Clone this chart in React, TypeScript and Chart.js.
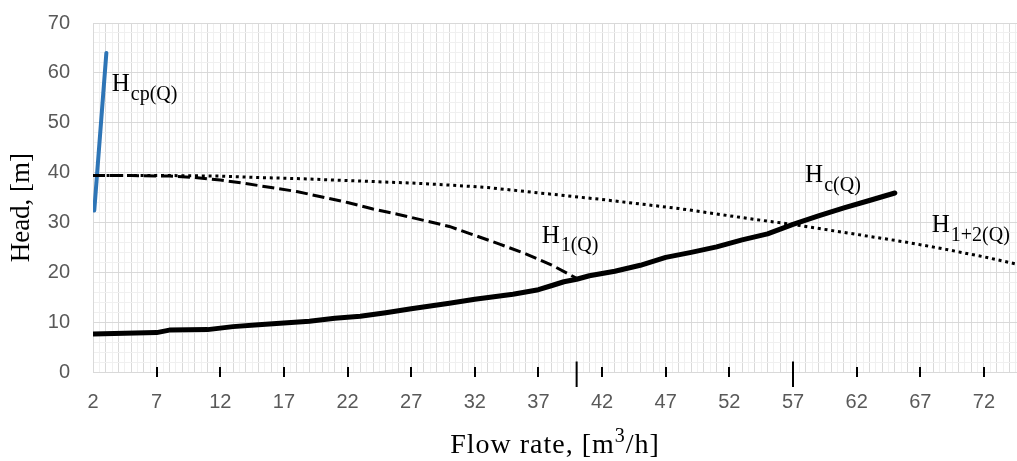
import React, { useEffect, useRef } from 'react';
import { Chart, registerables } from 'chart.js';

Chart.register(...registerables);

// Tick labels
const flowTicks = [2, 7, 12, 17, 22, 27, 32, 37, 42, 47, 52, 57, 62, 67, 72];
const headTicks = [0, 10, 20, 30, 40, 50, 60, 70];
const xMin = 2;
const xMax = 74.6;

// Axis titles
const xTitleMain = 'Flow rate, [m';
const xTitleSup = '3';
const xTitleEnd = '/h]';
const yTitle = 'Head, [m]';

// Series: Hc(Q) – network characteristic (solid)
const hcQ = [2, 7, 8, 11, 13, 15, 19, 21, 23, 25, 27, 30, 32, 35, 37, 38, 39, 40, 41, 43, 45, 47, 49, 51, 53, 55, 57, 59, 61, 63, 65];
const hcH = [7.6, 7.9, 8.4, 8.5, 9.1, 9.5, 10.2, 10.8, 11.2, 11.9, 12.7, 13.8, 14.6, 15.6, 16.5, 17.3, 18.1, 18.6, 19.3, 20.2, 21.4, 23.0, 24.0, 25.1, 26.5, 27.7, 29.6, 31.3, 32.9, 34.4, 35.9];

// H1(Q) – single pump (dashed)
const h1Q = [2, 5, 8, 10, 12, 14, 16, 18, 20, 22, 24, 26, 28, 30, 32, 34, 36, 38, 40];
const h1H = [39.4, 39.4, 39.3, 39.0, 38.5, 37.8, 37.0, 36.2, 35.1, 34.0, 32.7, 31.6, 30.4, 29.2, 27.4, 25.6, 23.7, 21.5, 18.8];

// H1+2(Q) – two pumps (dotted)
const h12Q = [2, 5, 8, 12, 15, 18, 21, 24, 27, 30, 33, 36, 39, 42, 45, 48, 51, 54, 57, 60, 63, 66, 69, 72, 75];
const h12H = [39.4, 39.4, 39.4, 39.3, 39.0, 38.8, 38.5, 38.2, 37.9, 37.5, 37.0, 36.2, 35.4, 34.6, 33.7, 32.8, 31.7, 30.6, 29.6, 28.4, 27.2, 26.0, 24.6, 23.1, 21.4];

// Hcp(Q) – blue line
const hcpQ = [2.1, 3.05];
const hcpH = [32.4, 64];

// Operating-point marks on the flow axis
const markQ = [40, 57];
const markTop = 2.1;
const markBottom = -3;

// Curve labels (H + subscript), anchored in data coordinates
const labelSubs = ['cp(Q)', 'c(Q)', '1(Q)', '1+2(Q)'];
const labelQ = [3.47, 57.95, 37.25, 67.9];
const labelH = [56.3, 38.1, 25.9, 28.0];

const pts = (xs: number[], ys: number[]) => xs.map((x, i) => ({ x, y: ys[i] }));

const gridX: number[] = [];
for (let v = 2; v <= 74.5; v += 0.5) gridX.push(v);
const gridY: number[] = [];
for (let v = 0; v <= 70; v += 2) gridY.push(v);

const crossTicksPlugin = {
  id: 'crossTicks',
  afterDatasetsDraw(chart: any) {
    const x = chart.scales.x;
    const y0 = chart.chartArea.bottom;
    const ctx = chart.ctx;
    ctx.save();
    ctx.strokeStyle = '#000';
    ctx.lineWidth = 2;
    flowTicks.forEach((v) => {
      if (v === xMin) return;
      const px = Math.round(x.getPixelForValue(v));
      ctx.beginPath();
      ctx.moveTo(px, y0 - 5);
      ctx.lineTo(px, y0 + 5);
      ctx.stroke();
    });
    ctx.restore();
  },
};

const textPlugin = {
  id: 'texts',
  afterDatasetsDraw(chart: any) {
    const { x, y } = chart.scales;
    const ctx = chart.ctx;
    ctx.save();
    ctx.fillStyle = '#000';
    ctx.textBaseline = 'alphabetic';
    ctx.textAlign = 'left';
    labelSubs.forEach((sub, i) => {
      const px = x.getPixelForValue(labelQ[i]);
      const py = y.getPixelForValue(labelH[i]);
      ctx.font = '25px "Liberation Serif"';
      ctx.fillText('H', px, py);
      const w = ctx.measureText('H').width;
      ctx.font = '20px "Liberation Serif"';
      ctx.fillText(sub, px + w + 1, py + 8.5);
    });
    // x-axis title with superscript
    const mainFont = '28px "Liberation Serif"';
    const supFont = '20px "Liberation Serif"';
    (ctx as any).letterSpacing = '1px';
    ctx.font = mainFont;
    const w1 = ctx.measureText(xTitleMain).width;
    const w3 = ctx.measureText(xTitleEnd).width;
    ctx.font = supFont;
    const w2 = ctx.measureText(xTitleSup).width;
    const total = w1 + w2 + w3;
    const cx = (chart.chartArea.left + chart.chartArea.right) / 2;
    const base = chart.height - 8;
    let sx = cx - total / 2;
    ctx.font = mainFont;
    ctx.fillText(xTitleMain, sx, base);
    sx += w1;
    ctx.font = supFont;
    ctx.fillText(xTitleSup, sx, base - 11);
    sx += w2;
    ctx.font = mainFont;
    ctx.fillText(xTitleEnd, sx, base);
    ctx.restore();
  },
};

export default function App() {
  const ref = useRef<HTMLCanvasElement | null>(null);

  useEffect(() => {
    if (!ref.current) return;
    const chart = new Chart(ref.current, {
      type: 'line',
      data: {
        datasets: [
          {
            data: pts(hcQ, hcH),
            borderColor: '#000',
            borderWidth: 5,
            pointRadius: 0,
            tension: 0,
            borderJoinStyle: 'round',
            borderCapStyle: 'round',
          },
          {
            data: pts(h1Q, h1H),
            borderColor: '#000',
            borderWidth: 3,
            borderDash: [12, 5],
            pointRadius: 0,
            tension: 0,
          },
          {
            data: pts(h12Q, h12H),
            borderColor: '#000',
            borderWidth: 3,
            borderDash: [3, 3.8],
            pointRadius: 0,
            tension: 0,
          },
          {
            data: pts(hcpQ, hcpH),
            borderColor: '#2e75b6',
            borderWidth: 4,
            borderCapStyle: 'round',
            pointRadius: 0,
            tension: 0,
          },
          ...markQ.map((q) => ({
            data: [
              { x: q, y: markTop },
              { x: q, y: markBottom },
            ],
            borderColor: '#000',
            borderWidth: 2,
            pointRadius: 0,
            clip: false as any,
          })),
        ] as any,
      },
      options: {
        animation: false,
        responsive: false,
        maintainAspectRatio: false,
        layout: { autoPadding: false, padding: { top: 23, right: 0, bottom: 0, left: 0 } },
        plugins: { legend: { display: false }, tooltip: { enabled: false } },
        scales: {
          x: {
            type: 'linear',
            min: xMin,
            max: xMax,
            afterBuildTicks: (s: any) => {
              s.ticks = gridX.map((v) => ({ value: v }));
            },
            afterFit: (s: any) => {
              s.height = 89;
              s.paddingLeft = 0;
              s.paddingRight = 0;
              s.paddingTop = 0;
              s.paddingBottom = 0;
            },
            ticks: {
              autoSkip: false,
              maxRotation: 0,
              minRotation: 0,
              padding: 18,
              color: '#595959',
              font: { family: 'Liberation Sans', size: 20 },
              callback: (v: any) => (flowTicks.includes(Number(v)) ? String(v) : ''),
            },
            grid: {
              drawTicks: false,
              color: (c: any) => (c.tick && Number.isInteger(c.tick.value) ? '#d9d9d9' : '#f0f0f0'),
            },
            border: { color: '#d9d9d9' },
          },
          y: {
            type: 'linear',
            min: 0,
            max: 70,
            afterBuildTicks: (s: any) => {
              s.ticks = gridY.map((v) => ({ value: v }));
            },
            afterFit: (s: any) => {
              s.width = 93;
              s.paddingLeft = 0;
              s.paddingRight = 0;
              s.paddingTop = 0;
              s.paddingBottom = 0;
            },
            ticks: {
              autoSkip: false,
              padding: 23,
              color: '#595959',
              font: { family: 'Liberation Sans', size: 20 },
              callback: (v: any) => (headTicks.includes(Number(v)) ? String(v) : ''),
            },
            grid: {
              drawTicks: false,
              color: (c: any) => (c.tick && c.tick.value % 10 === 0 ? '#d9d9d9' : '#f0f0f0'),
            },
            border: { color: '#d9d9d9' },
            title: {
              display: true,
              text: yTitle + '   ',
              color: '#000',
              font: { family: 'Liberation Serif', size: 27 },
              padding: { top: 6, bottom: 0 },
            },
          },
        },
      } as any,
      plugins: [crossTicksPlugin, textPlugin],
    });
    return () => chart.destroy();
  }, []);

  return (
    <div style={{ position: 'absolute', left: 0, top: 0, width: 1017, height: 461 }}>
      <canvas ref={ref} width={1017} height={461} />
    </div>
  );
}
